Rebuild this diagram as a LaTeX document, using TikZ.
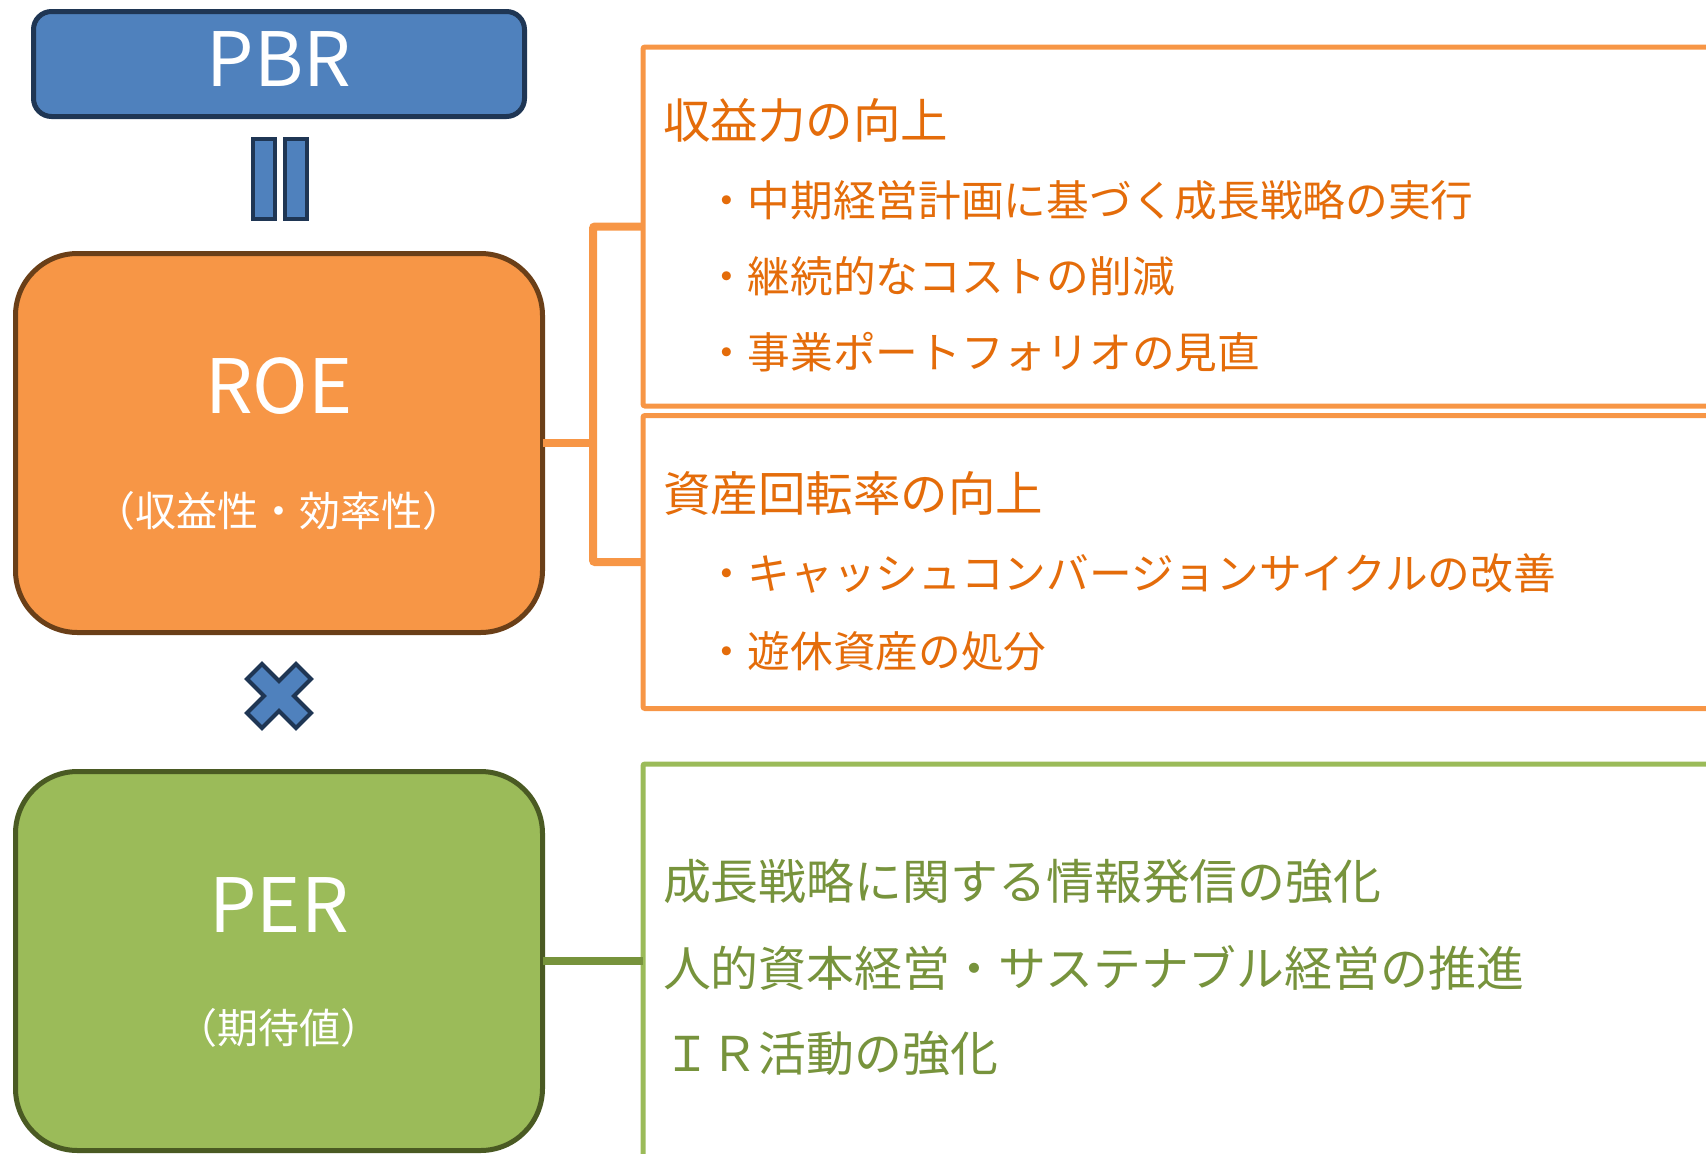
\documentclass[tikz,border=0pt]{standalone}
\usepackage{fontspec}
\setmainfont{Noto Sans CJK JP}
\definecolor{pbrfill}{HTML}{4F81BD}
\definecolor{pbrline}{HTML}{1F3654}
\definecolor{roefill}{HTML}{F79646}
\definecolor{roeline}{HTML}{6A3F18}
\definecolor{perfill}{HTML}{9BBB59}
\definecolor{perline}{HTML}{4A5A23}
\definecolor{otxt}{HTML}{E46C0A}
\definecolor{gtxt}{HTML}{77933C}
\definecolor{gconn}{HTML}{77933C}
\begin{document}
\begin{tikzpicture}[x=1pt,y=-1pt,
  every node/.style={inner sep=0pt, outer sep=0pt},
  pbrbox/.style={draw=pbrline, fill=pbrfill, line width=5pt, rounded corners=18pt, minimum width=491pt, minimum height=105pt},
  bigbox/.style={line width=5pt, rounded corners=62pt, minimum width=527pt, minimum height=379pt},
  roebox/.style={bigbox, draw=roeline, fill=roefill},
  perbox/.style={bigbox, draw=perline, fill=perfill},
  eqbar/.style={draw=pbrline, fill=pbrfill, line width=4pt, minimum width=22pt, minimum height=80pt},
  obox/.style={draw=roefill, line width=5pt, rounded corners=2pt, minimum width=1117pt},
  gbox/.style={draw=perfill, line width=5pt, rounded corners=2pt, minimum width=1117pt},
  bline/.style={draw=roefill, line width=8pt, rounded corners=2pt},
  gline/.style={draw=gconn, line width=8pt},
  bigtxt/.style={text=white, font=\fontsize{75}{75}\selectfont},
  subtxt/.style={text=white, font=\fontsize{41}{41}\selectfont},
  ohead/.style={text=otxt, anchor=west, font=\fontsize{47.5}{47.5}\selectfont},
  oitem/.style={text=otxt, anchor=west, font=\fontsize{42.7}{42.7}\selectfont},
  gitem/.style={text=gtxt, anchor=west, font=\fontsize{47.9}{47.9}\selectfont},
  timesign/.style={draw=pbrline, fill=pbrfill, line width=4pt}
]
\useasboundingbox (0,0) rectangle (1706,1154);
\clip (0,0) rectangle (1706,1154);

% left column
\node[pbrbox] (pbr) at (279,64) {};
\node[bigtxt] (pbrt) at (279,59) {PBR};
\node[eqbar] (eq1) at (264,179) {};
\node[eqbar] (eq2) at (296,179) {};

\node[roebox] (roe) at (279,443) {};
\node[bigtxt] (roet) at (279,386) {ROE};
\node[subtxt] (roes) at (279,511) {（収益性・効率性）};

\draw[timesign] (279,696) ++(0,-15) -- ++(17,-17) -- ++(15,15) -- ++(-17,17)
  -- ++(17,17) -- ++(-15,15) -- ++(-17,-17) -- ++(-17,17) -- ++(-15,-15)
  -- ++(17,-17) -- ++(-17,-17) -- ++(15,-15) -- cycle;

\node[perbox] (per) at (279,961) {};
\node[bigtxt] (pert) at (279,905) {PER};
\node[subtxt] (pers) at (279,1028) {（期待値）};

% right boxes
\node[obox, minimum height=359pt] (box1) at (1201.5,226.5) {};
\node[obox, minimum height=293pt] (box2) at (1201.5,562) {};
\node[gbox, minimum height=394pt] (box3) at (1201.5,961) {};

% connectors
\coordinate (bk) at (593,443);
\draw[bline] (box1.west) -| (bk) |- (box2.west);
\draw[bline] (roe.east) -- (bk);
\draw[gline] (per.east) -- (box3.west);

% texts
\node[ohead] (h1) at (663,120) {収益力の向上};
\node[oitem] (i1) at (705,200) {・中期経営計画に基づく成長戦略の実行};
\node[oitem] (i2) at (705,276) {・継続的なコストの削減};
\node[oitem] (i3) at (705,352) {・事業ポートフォリオの見直};
\node[ohead] (h2) at (663,493) {資産回転率の向上};
\node[oitem] (i4) at (705,573) {・キャッシュコンバージョンサイクルの改善};
\node[oitem] (i5) at (705,651) {・遊休資産の処分};

\node[gitem] (g1) at (663,881) {成長戦略に関する情報発信の強化};
\node[gitem] (g2) at (663,968) {人的資本経営・サステナブル経営の推進};
\node[gitem] (g3) at (663,1053) {ＩＲ活動の強化};
\end{tikzpicture}
\end{document}
